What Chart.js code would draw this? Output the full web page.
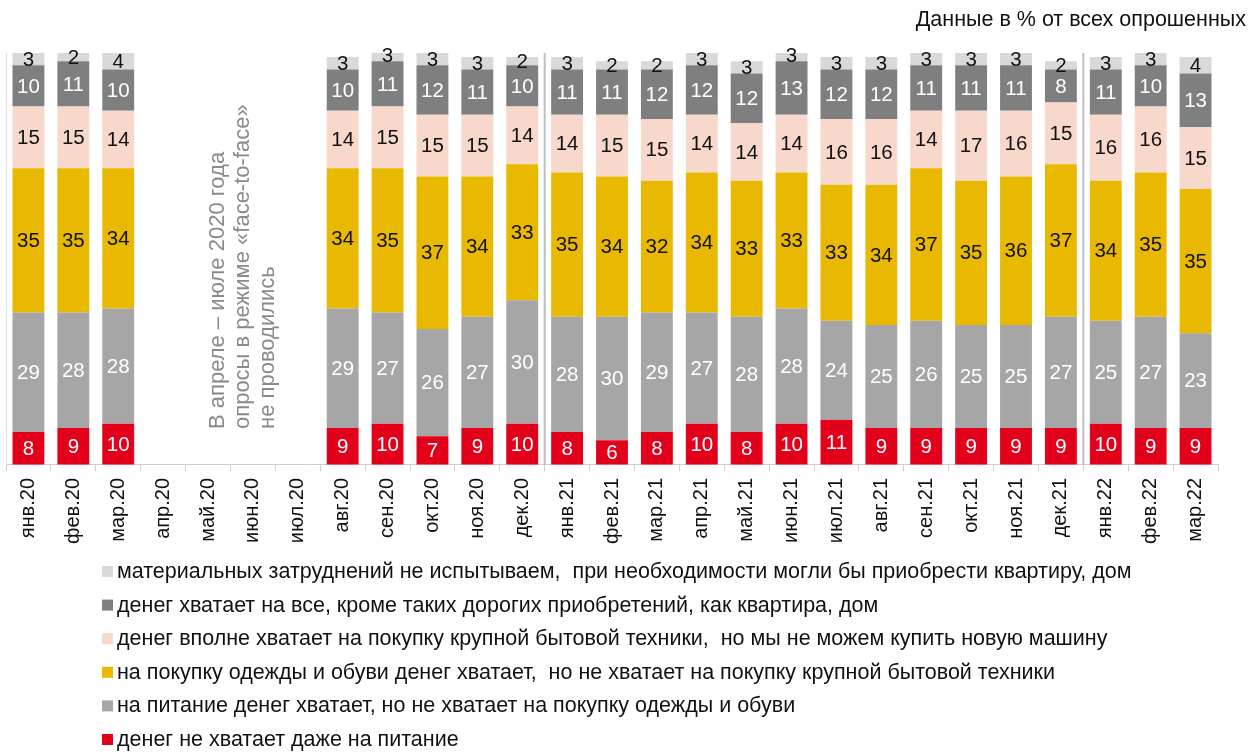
<!DOCTYPE html>
<html>
<head>
<meta charset="utf-8">
<script src="https://cdn.jsdelivr.net/npm/chart.js@4.4.1/dist/chart.umd.min.js"></script>
<style>
  html, body { margin: 0; padding: 0; background: #fff; }
  #wrap { width: 1257px; height: 753px; position: relative; }
</style>
</head>
<body>
<div id="wrap"><canvas id="chart" width="1257" height="753"></canvas></div>
<script>
// months; апр-июл 2020 have no survey
const months = ['янв.20', 'фев.20', 'мар.20', 'апр.20', 'май.20', 'июн.20', 'июл.20',
  'авг.20', 'сен.20', 'окт.20', 'ноя.20', 'дек.20',
  'янв.21', 'фев.21', 'мар.21', 'апр.21', 'май.21', 'июн.21', 'июл.21', 'авг.21',
  'сен.21', 'окт.21', 'ноя.21', 'дек.21', 'янв.22', 'фев.22', 'мар.22'];

const noFood      = [8, 9, 10, null, null, null, null, 9, 10, 7, 9, 10, 8, 6, 8, 10, 8, 10, 11, 9, 9, 9, 9, 9, 10, 9, 9];
const foodOnly    = [29, 28, 28, null, null, null, null, 29, 27, 26, 27, 30, 28, 30, 29, 27, 28, 28, 24, 25, 26, 25, 25, 27, 25, 27, 23];
const clothes     = [35, 35, 34, null, null, null, null, 34, 35, 37, 34, 33, 35, 34, 32, 34, 33, 33, 33, 34, 37, 35, 36, 37, 34, 35, 35];
const appliances  = [15, 15, 14, null, null, null, null, 14, 15, 15, 15, 14, 14, 15, 15, 14, 14, 14, 16, 16, 14, 17, 16, 15, 16, 16, 15];
const allButHouse = [10, 11, 10, null, null, null, null, 10, 11, 12, 11, 10, 11, 11, 12, 12, 12, 13, 12, 12, 11, 11, 11, 8, 11, 10, 13];
const noHardship  = [3, 2, 4, null, null, null, null, 3, 3, 3, 3, 2, 3, 2, 2, 3, 3, 3, 3, 3, 3, 3, 3, 2, 3, 3, 4];

// year boundaries: separator before these categories
const yearStarts = ['янв.21', 'янв.22'];

const noteLines = ['В апреле – июле 2020 года', 'опросы в режиме «face-to-face»', 'не проводились'];
const subtitle = 'Данные в % от всех опрошенных';

const series = [
  { label: 'денег не хватает даже на питание', data: noFood, color: '#e2001a', text: '#ffffff' },
  { label: 'на питание денег хватает, но не хватает на покупку одежды и обуви', data: foodOnly, color: '#a6a6a6', text: '#ffffff' },
  { label: 'на покупку одежды и обуви денег хватает,  но не хватает на покупку крупной бытовой техники', data: clothes, color: '#e8b900', text: '#111111' },
  { label: 'денег вполне хватает на покупку крупной бытовой техники,  но мы не можем купить новую машину', data: appliances, color: '#f8d8cb', text: '#111111' },
  { label: 'денег хватает на все, кроме таких дорогих приобретений, как квартира, дом', data: allButHouse, color: '#7f7f7f', text: '#ffffff' },
  { label: 'материальных затруднений не испытываем,  при необходимости могли бы приобрести квартиру, дом', data: noHardship, color: '#d9d9d9', text: '#111111' }
];

const FONT = 'Arial, "Liberation Sans", sans-serif';

// numbers inside the segments
const segmentLabels = {
  id: 'segmentLabels',
  afterDatasetsDraw(chart) {
    const ctx = chart.ctx;
    ctx.save();
    ctx.font = '20.5px ' + FONT;
    ctx.textAlign = 'center';
    ctx.textBaseline = 'middle';
    chart.data.datasets.forEach((ds, i) => {
      const meta = chart.getDatasetMeta(i);
      meta.data.forEach((bar, j) => {
        const v = ds.data[j];
        if (v == null) return;
        ctx.fillStyle = series[i].text;
        ctx.fillText(String(v), bar.x, (bar.y + bar.base) / 2 + 1);
      });
    });
    ctx.restore();
  }
};

// year separators, note, subtitle and the one-per-line legend
const extras = {
  id: 'extras',
  afterDraw(chart) {
    const ctx = chart.ctx;
    const area = chart.chartArea;
    const x = chart.scales.x;
    ctx.save();

    ctx.strokeStyle = '#bfbfbf';
    ctx.lineWidth = 2;
    yearStarts.forEach(m => {
      const idx = months.indexOf(m);
      const px = (x.getPixelForValue(idx - 1) + x.getPixelForValue(idx)) / 2;
      ctx.beginPath();
      ctx.moveTo(px, area.top);
      ctx.lineTo(px, area.bottom);
      ctx.stroke();
    });

    // note in the gap
    const gapMid = (x.getPixelForValue(4) + x.getPixelForValue(5)) / 2 + 12;
    ctx.fillStyle = '#8a8a8a';
    ctx.font = '22px ' + FONT;
    ctx.textAlign = 'left';
    ctx.textBaseline = 'middle';
    noteLines.forEach((line, k) => {
      ctx.save();
      ctx.translate(gapMid + (k - 1) * 25, 429);
      ctx.rotate(-Math.PI / 2);
      ctx.fillText(line, 0, 0);
      ctx.restore();
    });

    ctx.fillStyle = '#111';
    ctx.font = '21.5px ' + FONT;
    ctx.textAlign = 'right';
    ctx.fillText(subtitle, 1246, 20);

    // legend, top item is the upper segment
    ctx.font = '21.5px ' + FONT;
    ctx.textAlign = 'left';
    const items = series.slice().reverse();
    items.forEach((s, k) => {
      const cy = 572 + k * 33.6;
      ctx.fillStyle = s.color;
      ctx.fillRect(102, cy - 6, 11, 11);
      ctx.fillStyle = '#111';
      ctx.fillText(s.label, 117, cy);
    });

    ctx.restore();
  }
};

new Chart(document.getElementById('chart'), {
  type: 'bar',
  data: {
    labels: months,
    datasets: series.map(s => ({
      label: s.label,
      data: s.data,
      backgroundColor: s.color,
      borderWidth: 0,
      categoryPercentage: 1,
      barPercentage: 0.71
    }))
  },
  options: {
    responsive: false,
    animation: false,
    layout: { padding: { top: 53, right: 39, bottom: 202, left: 6 } },
    plugins: { legend: { display: false }, tooltip: { enabled: false } },
    scales: {
      x: {
        stacked: true,
        grid: { offset: true, drawOnChartArea: false, drawTicks: true, tickLength: 6, color: '#d0d0d0' },
        border: { color: '#d0d0d0' },
        ticks: { maxRotation: 90, minRotation: 90, autoSkip: false, color: '#111', font: { family: FONT, size: 20 }, padding: 7 }
      },
      y: {
        stacked: true,
        min: 0,
        max: 100,
        ticks: { display: false },
        grid: { drawOnChartArea: false, drawTicks: false },
        border: { color: '#e0e0e0' }
      }
    }
  },
  plugins: [segmentLabels, extras]
});
</script>
</body>
</html>
